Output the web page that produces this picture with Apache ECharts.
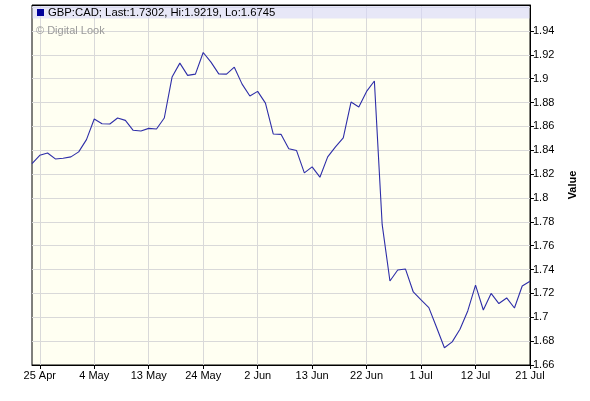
<!DOCTYPE html>
<html>
<head>
<meta charset="utf-8">
<script src="https://cdn.jsdelivr.net/npm/echarts@6/dist/echarts.min.js"></script>
<style>html,body{margin:0;padding:0;background:#fff;}#c{width:590px;height:401px;}</style>
</head>
<body>
<div id="c"></div>
<script>
var dates = [
  "22 Apr","25 Apr","26 Apr","27 Apr","28 Apr","29 Apr",
  "2 May","3 May","4 May","5 May","6 May","9 May","10 May","11 May","12 May","13 May",
  "16 May","17 May","18 May","19 May","20 May","23 May","24 May","25 May","26 May","27 May","30 May","31 May",
  "1 Jun","2 Jun","3 Jun","6 Jun","7 Jun","8 Jun","9 Jun","10 Jun","13 Jun","14 Jun","15 Jun","16 Jun","17 Jun",
  "20 Jun","21 Jun","22 Jun","23 Jun","24 Jun","27 Jun","28 Jun","29 Jun","30 Jun",
  "1 Jul","4 Jul","5 Jul","6 Jul","7 Jul","8 Jul","11 Jul","12 Jul","13 Jul","14 Jul","15 Jul","18 Jul","19 Jul","20 Jul","21 Jul"
];
var gbpcad = [
  1.8288,1.8357,1.8377,1.8327,1.8333,1.8344,
  1.8386,1.8489,1.8662,1.8622,1.8620,1.8670,1.8650,1.8567,1.8561,1.8583,
  1.8578,1.8670,1.9013,1.9130,1.9027,1.9038,1.9219,1.9138,1.9040,1.9038,1.9096,1.8954,
  1.8854,1.8893,1.8795,1.8536,1.8533,1.8413,1.8397,1.8210,1.8260,1.8174,1.8344,1.8428,1.8503,
  1.8804,1.8762,1.8893,1.8980,1.7778,1.7304,1.7396,1.7404,1.7212,
  1.7145,1.7081,1.6914,1.6745,1.6794,1.6900,1.7053,1.7270,1.7061,1.7200,1.7115,1.7162,1.7078,1.7262,1.7302
];
var titleText = "GBP:CAD; Last:1.7302, Hi:1.9219, Lo:1.6745";
var watermark = "\u00A9 Digital Look";
var yMin = 1.66, yMax = 1.9617, yStep = 0.02, yLastLabel = 1.94;

var font = "'Liberation Sans', Arial, sans-serif";
var every7 = function (idx) { return idx % 7 === 1; };

var chart = echarts.init(document.getElementById('c'));
chart.setOption({
  animation: false,
  backgroundColor: '#ffffff',
  grid: { left: 32, right: 60, top: 5, bottom: 36, show: true, backgroundColor: '#FFFFF2', borderColor: '#000', borderWidth: 1 },
  xAxis: {
    type: 'category', data: dates, boundaryGap: false,
    axisLine: { lineStyle: { color: '#000', width: 1 } },
    axisTick: { interval: every7, length: 4, lineStyle: { color: '#000' } },
    axisLabel: { interval: every7, color: '#000', fontFamily: font, fontSize: 11, margin: 5 },
    splitLine: { show: true, interval: every7, lineStyle: { color: '#D9D9D9', width: 1 } }
  },
  yAxis: {
    type: 'value', position: 'right', min: yMin, max: yMax, interval: yStep,
    name: 'Value', nameLocation: 'middle', nameGap: 37, nameRotate: 90,
    nameTextStyle: { fontFamily: font, fontSize: 11, fontWeight: 'bold', color: '#000' },
    axisLine: { show: true, lineStyle: { color: '#000', width: 1 } },
    axisTick: { show: true, length: 4, lineStyle: { color: '#000' } },
    axisLabel: { color: '#000', fontFamily: font, fontSize: 11, margin: 3, showMaxLabel: false,
      formatter: function (v) { return v > yLastLabel + 0.001 ? '' : String(parseFloat(v.toFixed(2))); } },
    splitLine: { show: true, lineStyle: { color: '#D9D9D9', width: 1 } }
  },
  series: [{
    type: 'line', data: gbpcad, showSymbol: false, symbol: 'none',
    lineStyle: { color: '#2E2EA8', width: 1.1 }, z: 3
  }],
  graphic: [
    { type: 'rect', shape: { x: 32.5, y: 5.5, width: 497, height: 13 }, style: { fill: 'rgba(215,215,250,0.6)' }, z: 10 },
    { type: 'rect', shape: { x: 531, y: 4, width: 8, height: 8 }, style: { fill: '#ffffff' }, z: 10 },
    { type: 'line', shape: { x1: 32, y1: 5.5, x2: 530, y2: 5.5 }, style: { stroke: '#000', lineWidth: 1 }, z: 11 },
    { type: 'rect', shape: { x: 37, y: 9, width: 7, height: 7 }, style: { fill: '#00009A' }, z: 11 },
    { type: 'text', x: 48, y: 12.5, style: { text: titleText, font: "11.3px 'Liberation Sans', Arial, sans-serif", fill: '#000', textVerticalAlign: 'middle', verticalAlign: 'middle' }, z: 11 },
    { type: 'text', x: 36, y: 31, style: { text: watermark, font: "11px 'Liberation Sans', Arial, sans-serif", fill: '#9A9A9A', textVerticalAlign: 'middle', verticalAlign: 'middle' }, z: 11 }
  ]
});
</script>
</body>
</html>
